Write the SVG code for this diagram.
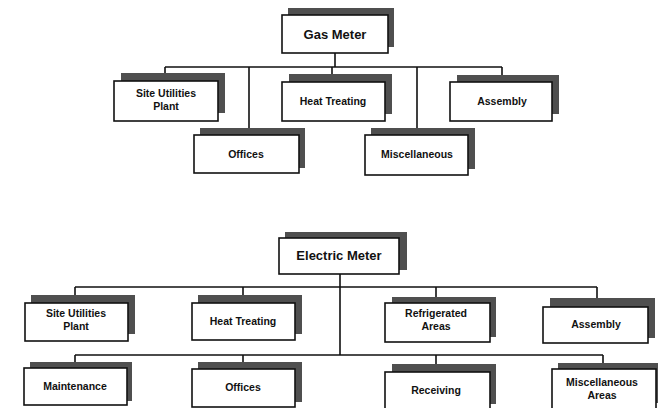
<svg xmlns="http://www.w3.org/2000/svg" width="658" height="408" viewBox="0 0 658 408">
<style>
.sh{fill:#4f4f4f;}
.bx{fill:#ffffff;stroke:#111111;stroke-width:1.6;}
.t{font-family:"Liberation Sans",Arial,sans-serif;font-weight:bold;font-size:10.5px;fill:#111111;text-anchor:middle;}
.tm{font-size:13px;}
.c{stroke:#111111;stroke-width:1.6;fill:none;}
</style>
<rect width="658" height="408" fill="#ffffff"/>
<g id="connectors">
<path class="c" d="M335 53V67M165 67H502M165 67V74M332 67V75M502 67V76M249 67V129M417 67V129"/>
<path class="c" d="M340 274V355M75 287H597M75 287V296M243 287V296M436 287V298M597 287V299M75 355H603M75 355V363M243 355V363M436 355V365M603 355V364"/>
</g>
<g id="gas-meter"><rect class="sh" x="288" y="8" width="106" height="39"/><rect class="bx" x="282" y="15" width="106" height="38"/><text class="t tm" x="335" y="39">Gas Meter</text></g>
<g id="g-site"><rect class="sh" x="121" y="73" width="104" height="40"/><rect class="bx" x="114" y="81" width="104" height="40"/><text class="t" x="166" y="97">Site Utilities</text><text class="t" x="166" y="110">Plant</text></g>
<g id="g-heat"><rect class="sh" x="289" y="74" width="103" height="40"/><rect class="bx" x="282" y="82" width="103" height="39"/><text class="t" x="333" y="105">Heat Treating</text></g>
<g id="g-assembly"><rect class="sh" x="457" y="75" width="102" height="39"/><rect class="bx" x="450" y="82" width="102" height="39"/><text class="t" x="502" y="105">Assembly</text></g>
<g id="g-offices"><rect class="sh" x="200" y="128" width="105" height="40"/><rect class="bx" x="194" y="135" width="105" height="38"/><text class="t" x="246" y="158">Offices</text></g>
<g id="g-misc"><rect class="sh" x="371" y="128" width="104" height="41"/><rect class="bx" x="365" y="135" width="103" height="40"/><text class="t" x="417" y="158">Miscellaneous</text></g>
<g id="electric-meter"><rect class="sh" x="285" y="232" width="122" height="38"/><rect class="bx" x="279" y="238" width="120" height="36"/><text class="t tm" x="339" y="260">Electric Meter</text></g>
<g id="e-site"><rect class="sh" x="31" y="295" width="104" height="39"/><rect class="bx" x="25" y="303" width="103" height="38"/><text class="t" x="76" y="317">Site Utilities</text><text class="t" x="76" y="330">Plant</text></g>
<g id="e-heat"><rect class="sh" x="198" y="295" width="104" height="39"/><rect class="bx" x="192" y="303" width="103" height="37"/><text class="t" x="243" y="325">Heat Treating</text></g>
<g id="e-refrig"><rect class="sh" x="392" y="297" width="104" height="40"/><rect class="bx" x="385" y="303" width="105" height="39"/><text class="t" x="436" y="317">Refrigerated</text><text class="t" x="436" y="330">Areas</text></g>
<g id="e-assembly"><rect class="sh" x="550" y="298" width="105" height="40"/><rect class="bx" x="543" y="307" width="105" height="36"/><text class="t" x="596" y="328">Assembly</text></g>
<g id="e-maint"><rect class="sh" x="30" y="362" width="102" height="39"/><rect class="bx" x="24" y="368" width="103" height="37"/><text class="t" x="75" y="390">Maintenance</text></g>
<g id="e-offices"><rect class="sh" x="198" y="362" width="104" height="40"/><rect class="bx" x="192" y="369" width="103" height="38"/><text class="t" x="243" y="391">Offices</text></g>
<g id="e-receiving"><rect class="sh" x="392" y="364" width="104" height="40"/><rect class="bx" x="385" y="372" width="105" height="38"/><text class="t" x="436" y="394">Receiving</text></g>
<g id="e-misc"><rect class="sh" x="558" y="363" width="105" height="40"/><rect class="bx" x="552" y="369" width="104" height="40"/><text class="t" x="602" y="386">Miscellaneous</text><text class="t" x="602" y="399">Areas</text></g>
</svg>
